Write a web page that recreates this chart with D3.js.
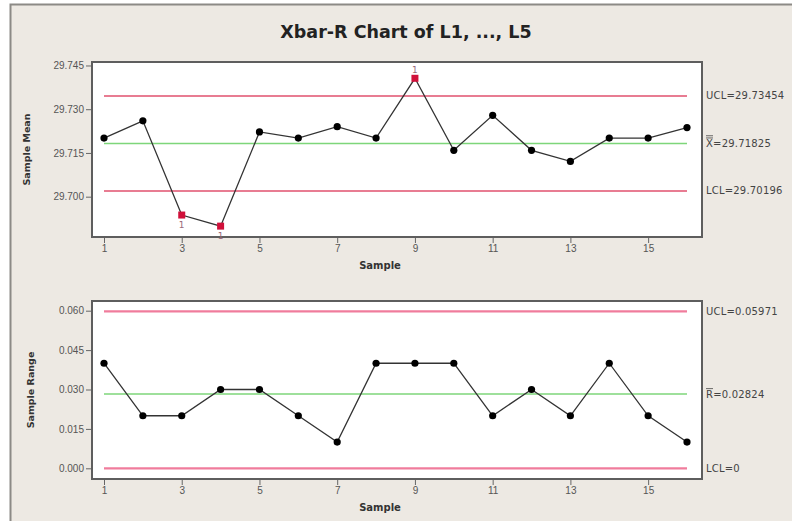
<!DOCTYPE html>
<html><head><meta charset="utf-8">
<script src="https://cdn.jsdelivr.net/npm/d3@7"></script>
<style>
html,body{margin:0;padding:0;background:#fff;}
svg{display:block;font-family:Tahoma,"DejaVu Sans",Verdana,sans-serif;}
</style></head>
<body>
<svg id="c" width="792" height="521"></svg>
<script>
// ---- data ----
const samples = d3.range(1, 17);
const means = [29.7201, 29.7260, 29.6937, 29.6899, 29.7222, 29.7201, 29.7240, 29.7201,
               29.7406, 29.7159, 29.7279, 29.7159, 29.7121, 29.7201, 29.7201, 29.7237];
const ranges = [0.040, 0.020, 0.020, 0.030, 0.030, 0.020, 0.010, 0.040,
                0.040, 0.040, 0.020, 0.030, 0.020, 0.040, 0.020, 0.010];
const meanLimits = {UCL: 29.73454, CL: 29.71825, LCL: 29.70196};
const rangeLimits = {UCL: 0.05971, CL: 0.02824, LCL: 0};
const meanTicks = [29.700, 29.715, 29.730, 29.745];
const rangeTicks = [0.000, 0.015, 0.030, 0.045, 0.060];
const xTicks = [1, 3, 5, 7, 9, 11, 13, 15];
const meanFlagged = [3, 4, 9];
const meanFlagBelow = [true, true, false];

const svg = d3.select("#c");
// frame
svg.append("rect").attr("x", 10.5).attr("y", 4.5).attr("width", 790).attr("height", 530)
  .attr("fill", "#ede9e3").attr("stroke", "#8c8a86").attr("stroke-width", 2);

svg.append("text").attr("x", 406).attr("y", 38).attr("text-anchor", "middle")
  .attr("font-size", 17.5).attr("font-weight", "bold").attr("fill", "#222")
  .text("Xbar-R Chart of L1, ..., L5");

const x = d3.scaleLinear().domain([1, 16]).range([104, 687]);

function panel(cfg) {
  const g = svg.append("g");
  const y = d3.scaleLinear().domain(cfg.domain).range([cfg.bottom, cfg.top]);
  g.append("rect").attr("x", 92).attr("y", cfg.top).attr("width", 610).attr("height", cfg.bottom - cfg.top)
    .attr("fill", "#fff").attr("stroke", "#5e5e5e").attr("stroke-width", 2);
  // limit lines
  g.append("line").attr("x1", x(1)).attr("x2", x(16)).attr("y1", y(cfg.lim.UCL)).attr("y2", y(cfg.lim.UCL))
    .attr("stroke", cfg.ucCol).attr("stroke-width", cfg.ucW);
  g.append("line").attr("x1", x(1)).attr("x2", x(16)).attr("y1", y(cfg.lim.LCL)).attr("y2", y(cfg.lim.LCL))
    .attr("stroke", cfg.ucCol).attr("stroke-width", cfg.ucW);
  g.append("line").attr("x1", x(1)).attr("x2", x(16)).attr("y1", y(cfg.lim.CL)).attr("y2", y(cfg.lim.CL))
    .attr("stroke", "#7ed67a").attr("stroke-width", 1.5);
  // axes
  const ya = d3.axisLeft(y).tickValues(cfg.ticks).tickFormat(d3.format(cfg.fmt)).tickSize(5).tickPadding(2);
  const ga = g.append("g").attr("transform", "translate(91,0)").call(ya);
  ga.select(".domain").remove();
  ga.selectAll("line").attr("stroke", "#666");
  ga.selectAll("text").attr("font-size", 10).attr("fill", "#555");
  const xa = d3.axisBottom(x).tickValues(xTicks).tickFormat(d3.format("d")).tickSize(5).tickPadding(2);
  const gx = g.append("g").attr("transform", `translate(0,${cfg.bottom + 1})`).call(xa);
  gx.select(".domain").remove();
  gx.selectAll("line").attr("stroke", "#666");
  gx.selectAll("text").attr("font-size", 10).attr("fill", "#555");
  g.append("text").attr("x", 380).attr("y", cfg.bottom + 32).attr("text-anchor", "middle")
    .attr("font-size", 10).attr("font-weight", "bold").attr("fill", "#333").text("Sample");
  g.append("text").attr("transform", `translate(${cfg.ylx},${(cfg.top + cfg.bottom) / 2}) rotate(-90)`)
    .attr("text-anchor", "middle").attr("font-size", 9.5).attr("font-weight", "bold").attr("fill", "#333")
    .text(cfg.ylabel);
  // series
  const line = d3.line().x((d, i) => x(samples[i])).y(d => y(d));
  g.append("path").datum(cfg.values).attr("d", line).attr("fill", "none")
    .attr("stroke", "#333").attr("stroke-width", 1.3);
  cfg.values.forEach((v, i) => {
    const s = samples[i];
    if (cfg.flagged.includes(s)) {
      g.append("rect").attr("x", x(s) - 3.5).attr("y", y(v) - 3.5).attr("width", 7).attr("height", 7)
        .attr("fill", "#d0103a");
    } else {
      g.append("circle").attr("cx", x(s)).attr("cy", y(v)).attr("r", 3.6).attr("fill", "#000");
    }
  });
  cfg.flagged.forEach((s, k) => {
    const v = cfg.values[s - 1];
    const below = cfg.flagBelow[k];
    g.append("text").attr("x", x(s)).attr("y", below ? y(v) + 13 : y(v) - 5)
      .attr("text-anchor", "middle").attr("font-size", 9).attr("fill", "#9a6a7a").text("1");
  });
  // right labels
  const lab = [[cfg.lim.UCL, cfg.lab[0]], [cfg.lim.CL, cfg.lab[1]], [cfg.lim.LCL, cfg.lab[2]]];
  lab.forEach(([v, t], k) => {
    const tx = g.append("text").attr("x", 706).attr("y", y(v) + 3.5).attr("font-size", 10)
      .attr("letter-spacing", 0.2).attr("fill", "#444");
    if (k === 1) {
      tx.append("tspan").text(cfg.barSym);
      tx.append("tspan").text(t);
      const n = cfg.double ? 2 : 1;
      for (let j = 0; j < n; j++) {
        g.append("line").attr("x1", 706).attr("x2", 713).attr("y1", y(v) - 5.5 - j * 2.2).attr("y2", y(v) - 5.5 - j * 2.2)
          .attr("stroke", "#444").attr("stroke-width", 0.8);
      }
    } else tx.text(t);
  });
}

panel({
  top: 62, bottom: 237, domain: [29.68617, 29.74619], ticks: meanTicks, fmt: ".3f",
  values: means, lim: meanLimits, flagged: meanFlagged, flagBelow: meanFlagBelow,
  ucCol: "#e0506e", ucW: 1.4, ylx: 30, ylabel: "Sample Mean",
  lab: ["UCL=29.73454", "=29.71825", "LCL=29.70196"], barSym: "X", double: true
});
panel({
  top: 301, bottom: 479, domain: [-0.00407, 0.06369], ticks: rangeTicks, fmt: ".3f",
  values: ranges, lim: rangeLimits, flagged: [], flagBelow: [],
  ucCol: "#f07c9c", ucW: 2.2, ylx: 34, ylabel: "Sample Range",
  lab: ["UCL=0.05971", "=0.02824", "LCL=0"], barSym: "R", double: false
});
</script>
</body></html>
